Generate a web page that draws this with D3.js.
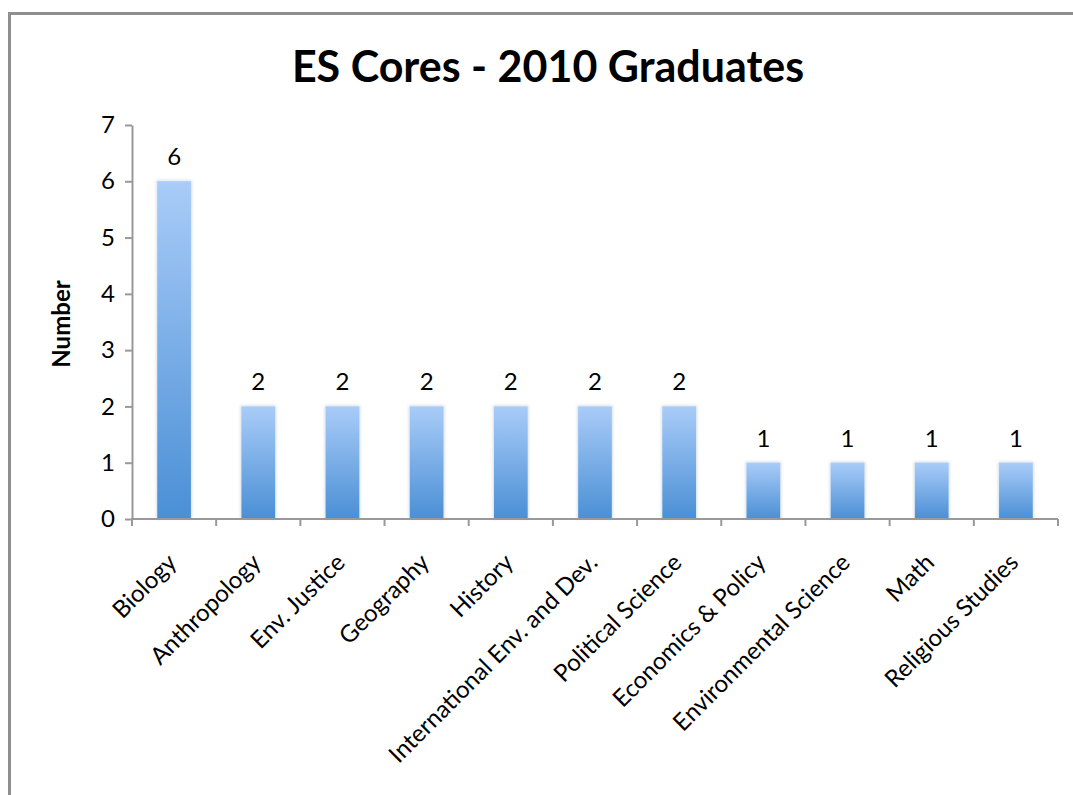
<!DOCTYPE html>
<html>
<head>
<meta charset="utf-8">
<script src="https://cdn.jsdelivr.net/npm/d3@7"></script>
<style>
  html, body { margin: 0; padding: 0; background: #fff; }
  svg { display: block; }
  text { font-family: Lato, "Open Sans", sans-serif; fill: #000; }
</style>
</head>
<body>
<svg id="chart" width="1073" height="795"></svg>
<script>
// Core areas chosen by 2010 ES graduates
const categories = [
  "Biology", "Anthropology", "Env. Justice", "Geography", "History",
  "International Env. and Dev.", "Political Science", "Economics & Policy",
  "Environmental Science", "Math", "Religious Studies"
];
const counts = [6, 2, 2, 2, 2, 2, 2, 1, 1, 1, 1];
const yTicks = [0, 1, 2, 3, 4, 5, 6, 7];
const chartTitle = "ES Cores - 2010 Graduates";
const yTitle = "Number";

const svg = d3.select("#chart");
const W = 1073, H = 795;
const plot = { left: 132, right: 1058, top: 125, bottom: 519 };

// outer chart frame
svg.append("rect")
  .attr("x", 9.5).attr("y", 13.5)
  .attr("width", W + 20).attr("height", H + 20)
  .attr("fill", "none").attr("stroke", "#8f8f8f").attr("stroke-width", 3);

const defs = svg.append("defs");
const grad = defs.append("linearGradient")
  .attr("id", "barGrad").attr("x1", 0).attr("y1", 0).attr("x2", 0).attr("y2", 1);
grad.append("stop").attr("offset", "0%").attr("stop-color", "#a9ccf8");
grad.append("stop").attr("offset", "100%").attr("stop-color", "#4a8fd5");

const glow = defs.append("filter").attr("id", "glow")
  .attr("x", "-30%").attr("y", "-10%").attr("width", "160%").attr("height", "120%");
glow.append("feGaussianBlur").attr("stdDeviation", 1.6);

const x = d3.scaleBand().domain(categories).range([plot.left, plot.right]).padding(0);
const y = d3.scaleLinear().domain([0, 7]).range([plot.bottom, plot.top]);
const barW = x.bandwidth() * 0.4;

// title
svg.append("text")
  .attr("x", 548).attr("y", 82)
  .attr("text-anchor", "middle")
  .style("font-weight", "bold").style("font-size", "43px")
  .text(chartTitle);

// y axis title
svg.append("text")
  .attr("transform", "translate(70,324) rotate(-90)")
  .attr("text-anchor", "middle")
  .style("font-weight", "bold").style("font-size", "24px")
  .text(yTitle);

// bar shadows and bars
const bars = svg.append("g");
bars.selectAll("rect.shadow").data(counts).join("rect")
  .attr("class", "shadow")
  .attr("x", (d, i) => x(categories[i]) + (x.bandwidth() - barW) / 2 - 1)
  .attr("y", d => y(d) - 1)
  .attr("width", barW + 2)
  .attr("height", d => y(0) - y(d) + 1)
  .attr("fill", "#b8c8dc").attr("opacity", 0.6)
  .attr("filter", "url(#glow)");
bars.selectAll("rect.bar").data(counts).join("rect")
  .attr("class", "bar")
  .attr("x", (d, i) => x(categories[i]) + (x.bandwidth() - barW) / 2)
  .attr("y", d => y(d))
  .attr("width", barW)
  .attr("height", d => y(0) - y(d))
  .attr("fill", "url(#barGrad)");

// value labels
svg.append("g").selectAll("text").data(counts).join("text")
  .attr("x", (d, i) => x(categories[i]) + x.bandwidth() / 2)
  .attr("y", d => y(d) - 16)
  .attr("text-anchor", "middle")
  .style("font-size", "24px")
  .text(d => d);

// y axis
const yAxis = svg.append("g")
  .attr("transform", `translate(${plot.left},0)`)
  .call(d3.axisLeft(y).tickValues(yTicks).tickFormat(d3.format("d"))
    .tickSize(7).tickSizeOuter(0).tickPadding(10));
yAxis.select(".domain").attr("stroke", "#999").attr("stroke-width", 2);
yAxis.selectAll(".tick line").attr("stroke", "#999").attr("stroke-width", 2);
yAxis.selectAll(".tick text").style("font-size", "24px").style("font-family", "Lato, sans-serif").attr("fill", "#000");

// x axis line with ticks at category boundaries
const edges = categories.map(c => x(c)).concat([plot.right]);
const xAxis = svg.append("g");
xAxis.append("line")
  .attr("x1", plot.left - 1).attr("x2", plot.right)
  .attr("y1", plot.bottom).attr("y2", plot.bottom)
  .attr("stroke", "#999").attr("stroke-width", 2);
xAxis.selectAll("line.tk").data(edges).join("line")
  .attr("class", "tk")
  .attr("x1", d => d).attr("x2", d => d)
  .attr("y1", plot.bottom).attr("y2", plot.bottom + 7)
  .attr("stroke", "#999").attr("stroke-width", 2);

// rotated category labels
xAxis.selectAll("text").data(categories).join("text")
  .attr("transform", d => `translate(${x(d) + x.bandwidth() / 2 + 4},${plot.bottom + 45}) rotate(-45)`)
  .attr("text-anchor", "end")
  .style("font-size", "24px")
  .text(d => d);
</script>
</body>
</html>
